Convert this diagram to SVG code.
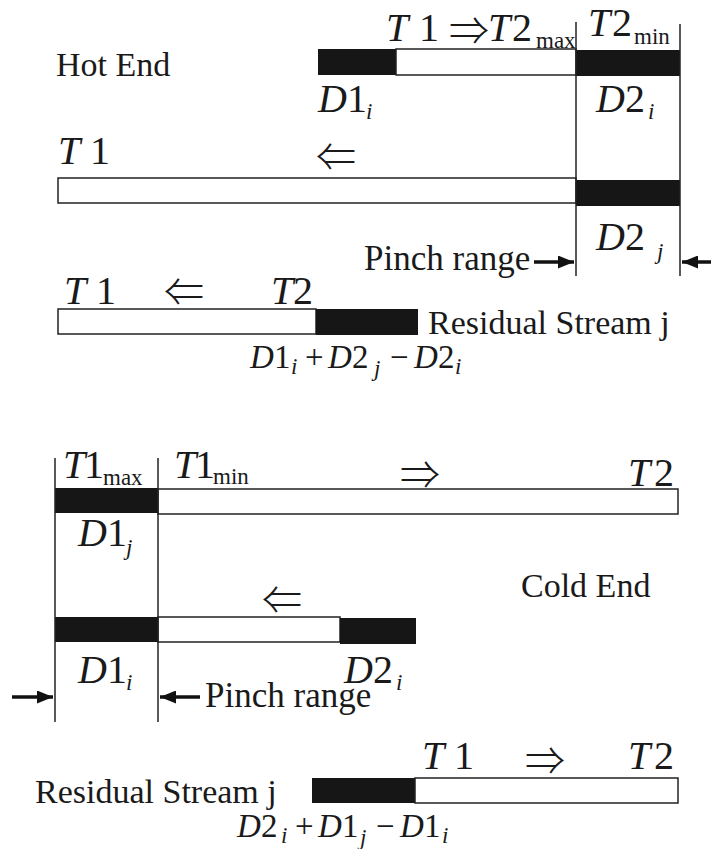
<svg xmlns="http://www.w3.org/2000/svg" width="711" height="849" viewBox="0 0 711 849">
  <defs>
    <marker id="tip" viewBox="0 0 16 13" refX="16" refY="6.5" markerWidth="16" markerHeight="13" markerUnits="userSpaceOnUse" orient="auto">
      <path d="M0,0 L16,6.5 L0,13 Z" fill="#111"/>
    </marker>
  </defs>
  <style>
    text { font-family: "Liberation Serif", "DejaVu Serif", serif; fill: #1a1a1a; }
    .lbl { font-size: 34px; }
    .pr { font-size: 35px; }
    .m { font-size: 40px; }
    .v { font-style: italic; }
    .sub { font-size: 23px; }
    .subv { font-size: 23px; font-style: italic; }
    .eq { font-size: 33px; }
    .arr { font-size: 40px; font-family: "Noto Sans CJK JP", "DejaVu Sans", sans-serif; font-weight: 300; }
    .hot { fill: #161616; }
    .cold { fill: #ffffff; stroke: #222; stroke-width: 1.5; }
    .guide { stroke: #222; stroke-width: 1.5; fill: none; }
    .pin { stroke: #111; stroke-width: 3.5; marker-end: url(#tip); }
  </style>
  <rect width="711" height="849" fill="#ffffff"/>

  <!-- ===== Hot end ===== -->
  <g id="hot-end">
    <text class="lbl" x="56" y="76">Hot End</text>

    <g id="hot-stream-i">
      <rect class="hot" x="318" y="49" width="78" height="26"/>
      <rect class="cold" x="396" y="49" width="180" height="26"/>
      <rect class="hot" x="576" y="50" width="104" height="26"/>
      <text class="m" y="41"><tspan class="v" x="386">T</tspan><tspan x="419">1</tspan></text>
      <text class="arr" x="449" y="45">⇒</text>
      <text class="m" y="41"><tspan class="v" x="488">T</tspan><tspan x="512">2</tspan><tspan class="sub" x="536" dy="7">max</tspan></text>
      <text class="m" y="36"><tspan class="v" x="588">T</tspan><tspan x="612">2</tspan><tspan class="sub" x="634" dy="8">min</tspan></text>
      <text class="m" y="112"><tspan class="v" x="318">D</tspan><tspan x="347">1</tspan><tspan class="subv" x="366" dy="7">i</tspan></text>
      <text class="m" y="112"><tspan class="v" x="596">D</tspan><tspan x="625">2</tspan><tspan class="subv" x="648" dy="7">i</tspan></text>
    </g>

    <g id="hot-stream-j">
      <rect class="cold" x="58" y="178" width="518" height="25"/>
      <rect class="hot" x="576" y="180" width="104" height="26"/>
      <text class="m" y="164"><tspan class="v" x="58">T</tspan><tspan x="90">1</tspan></text>
      <text class="arr" x="316" y="171">⇐</text>
      <text class="m" y="250"><tspan class="v" x="596">D</tspan><tspan x="625">2</tspan><tspan class="subv" x="657" dy="9">j</tspan></text>
    </g>

    <g id="hot-residual">
      <rect class="cold" x="58" y="309" width="258" height="25"/>
      <rect class="hot" x="316" y="309" width="102" height="26"/>
      <text class="m" y="304"><tspan class="v" x="64">T</tspan><tspan x="96">1</tspan></text>
      <text class="arr" x="164" y="306">⇐</text>
      <text class="m" y="304"><tspan class="v" x="271">T</tspan><tspan x="293">2</tspan></text>
      <text class="lbl" x="428" y="334">Residual Stream j</text>
      <text class="eq" y="368"><tspan class="v" x="250">D</tspan><tspan x="274">1</tspan><tspan class="subv" x="291" dy="6">i</tspan><tspan x="305" dy="-6">+</tspan><tspan class="v" x="328">D</tspan><tspan x="352">2</tspan><tspan class="subv" x="374" dy="8">j</tspan><tspan x="390" dy="-8">−</tspan><tspan class="v" x="414">D</tspan><tspan x="438">2</tspan><tspan class="subv" x="455" dy="6">i</tspan></text>
    </g>

    <g id="hot-pinch">
      <line class="guide" x1="576" y1="22" x2="576" y2="276"/>
      <line class="guide" x1="680" y1="24" x2="680" y2="276"/>
      <text class="pr" x="364" y="270">Pinch range</text>
      <line class="pin" x1="534" y1="262" x2="574" y2="262"/>
      <line class="pin" x1="711" y1="262" x2="682" y2="262"/>
    </g>
  </g>

  <!-- ===== Cold end ===== -->
  <g id="cold-end">
    <text class="lbl" x="521" y="597">Cold End</text>

    <g id="cold-stream-j">
      <rect class="hot" x="55" y="488" width="103" height="25"/>
      <rect class="cold" x="158" y="489" width="520" height="25"/>
      <text class="m" y="478"><tspan class="v" x="63">T</tspan><tspan x="84">1</tspan><tspan class="sub" x="103" dy="7">max</tspan></text>
      <text class="m" y="478"><tspan class="v" x="174">T</tspan><tspan x="195">1</tspan><tspan class="sub" x="213" dy="6">min</tspan></text>
      <text class="arr" x="400" y="489">⇒</text>
      <text class="m" y="486"><tspan class="v" x="628">T</tspan><tspan x="654">2</tspan></text>
      <text class="m" y="546"><tspan class="v" x="78">D</tspan><tspan x="107">1</tspan><tspan class="subv" x="126" dy="9">j</tspan></text>
    </g>

    <g id="cold-stream-i">
      <rect class="hot" x="55" y="617" width="103" height="25"/>
      <rect class="cold" x="158" y="617" width="182" height="25"/>
      <rect class="hot" x="340" y="618" width="76" height="26"/>
      <text class="arr" x="262" y="614">⇐</text>
      <text class="m" y="683"><tspan class="v" x="78">D</tspan><tspan x="107">1</tspan><tspan class="subv" x="126" dy="7">i</tspan></text>
      <text class="m" y="683"><tspan class="v" x="344">D</tspan><tspan x="373">2</tspan><tspan class="subv" x="396" dy="7">i</tspan></text>
    </g>

    <g id="cold-pinch">
      <line class="guide" x1="55" y1="458" x2="55" y2="722"/>
      <line class="guide" x1="158" y1="458" x2="158" y2="722"/>
      <line class="pin" x1="12" y1="697" x2="53" y2="697"/>
      <line class="pin" x1="200" y1="697" x2="160" y2="697"/>
      <text class="pr" x="205" y="707">Pinch range</text>
    </g>

    <g id="cold-residual">
      <rect class="hot" x="312" y="778" width="103" height="25"/>
      <rect class="cold" x="415" y="778" width="263" height="25"/>
      <text class="m" y="769"><tspan class="v" x="422">T</tspan><tspan x="454">1</tspan></text>
      <text class="arr" x="525" y="775">⇒</text>
      <text class="m" y="769"><tspan class="v" x="628">T</tspan><tspan x="654">2</tspan></text>
      <text class="lbl" x="35" y="803">Residual Stream j</text>
      <text class="eq" y="837"><tspan class="v" x="237">D</tspan><tspan x="261">2</tspan><tspan class="subv" x="281" dy="6">i</tspan><tspan x="295" dy="-6">+</tspan><tspan class="v" x="318">D</tspan><tspan x="342">1</tspan><tspan class="subv" x="360" dy="8">j</tspan><tspan x="376" dy="-8">−</tspan><tspan class="v" x="400">D</tspan><tspan x="424">1</tspan><tspan class="subv" x="442" dy="6">i</tspan></text>
    </g>
  </g>
</svg>
